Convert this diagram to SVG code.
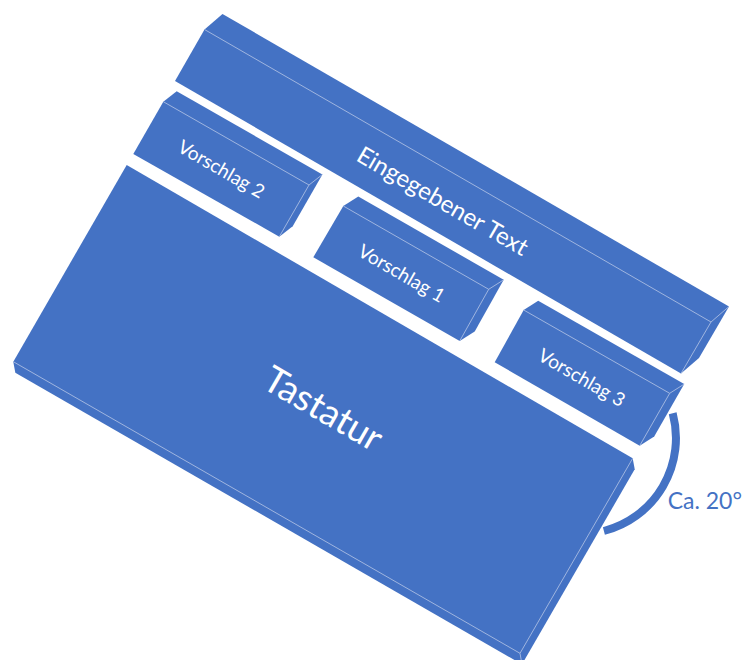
<svg xmlns="http://www.w3.org/2000/svg" width="745" height="660" viewBox="0 0 745 660">
<style>
.slab{fill:#4472C4;stroke:none}
.edge{fill:none;stroke:#A9BCE2;stroke-width:0.9}
.lbl{fill:#FFFFFF;font-family:Lato,"Liberation Sans",sans-serif;text-anchor:middle}
.ang{fill:#4472C4;font-family:Lato,"Liberation Sans",sans-serif;text-anchor:end}
</style>
<rect width="745" height="660" fill="#FFFFFF"/>
<g id="eingegebener-text">
<polygon class="slab" points="175,81 204.5,29.5 222.5,14 729,306.5 699,358 681,373.5"/>
<polyline class="edge" points="204.5,29.5 711,322 729,306.5"/>
<line class="edge" x1="711" y1="322" x2="681" y2="373.5"/>
<text class="lbl" font-size="24" transform="translate(442.5,201.3) rotate(30)" y="8">Eingegebener Text</text>
</g>
<g id="vorschlag-2">
<polygon class="slab" points="133.3,154 163.3,101.7 176.7,91.2 322.4,174.5 292.7,226.2 279.3,236.7"/>
<polyline class="edge" points="163.3,101.7 309,185 322.4,174.5"/>
<line class="edge" x1="309" y1="185" x2="279.3" y2="236.7"/>
<text class="lbl" font-size="19" transform="translate(221.3,169.2) rotate(30)" y="6.5">Vorschlag 2</text>
</g>
<g id="vorschlag-1">
<polygon class="slab" points="313.3,257.3 343.3,206 358.3,196.5 503.7,279.8 474.7,331.5 459.7,341"/>
<polyline class="edge" points="343.3,206 488.7,289.3 503.7,279.8"/>
<line class="edge" x1="488.7" y1="289.3" x2="459.7" y2="341"/>
<text class="lbl" font-size="19" transform="translate(401.5,273.5) rotate(30)" y="6.5">Vorschlag 1</text>
</g>
<g id="vorschlag-3">
<polygon class="slab" points="494.7,362.3 523.7,310 538.2,300.8 684.2,384.1 654.2,436.5 639.7,445.7"/>
<polyline class="edge" points="523.7,310 669.7,393.3 684.2,384.1"/>
<line class="edge" x1="669.7" y1="393.3" x2="639.7" y2="445.7"/>
<text class="lbl" font-size="19" transform="translate(581.7,377.8) rotate(30)" y="6.5">Vorschlag 3</text>
</g>
<g id="tastatur">
<polygon class="slab" points="126.7,165 632.7,458.3 634.7,469.3 522,664.3 15.3,372.7 13.3,361.7"/>
<polyline class="edge" points="13.3,361.7 520,653.3 632.7,458.3"/>
<line class="edge" x1="520" y1="653.3" x2="522" y2="664.3"/>
<text class="lbl" font-size="37" transform="translate(323.3,408.5) rotate(30)" y="13">Tastatur</text>
</g>
<g id="connectors">
<path d="M672.7,413.2 A96,96 0 0 1 603.9,531" fill="none" stroke="#4472C4" stroke-width="8"/>
</g>
<g id="angle-label">
<text class="ang" x="742" y="509.3" font-size="23">Ca. 20°</text>
</g>
</svg>
